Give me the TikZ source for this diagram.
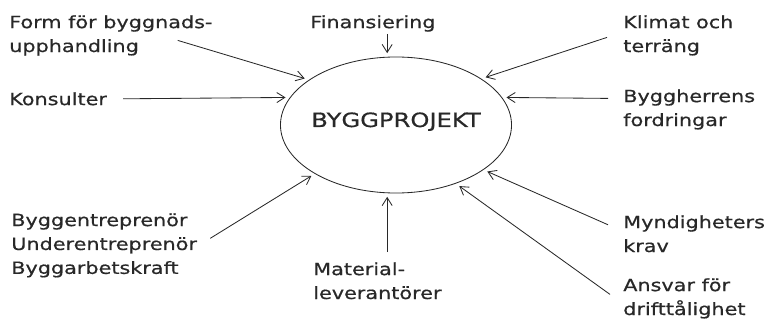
\documentclass[tikz,border=0pt]{standalone}
\usepackage{fontspec}
\setmainfont[FakeStretch=1.23, FakeBold=0.6]{DejaVu Sans}
\usetikzlibrary{arrows.meta, positioning, shapes, calc}
\definecolor{Ink}{RGB}{40, 40, 40}

\begin{document}
\begin{tikzpicture}[x=0.025cm, y=-0.025cm]
        \tikzstyle{factor} = [anchor=north west, align=left, inner sep=0pt, text=Ink, font=\fontsize{12}{17}\selectfont]
        \tikzstyle{project} = [ellipse, draw=Ink, line width=0.6pt, minimum width=5.775cm, minimum height=3.4cm, inner sep=0pt, outer sep=0.1cm]
        \tikzstyle{arrow} = [-{Straight Barb[length=0.2cm, width=0.25cm]}, line width=0.6pt, Ink]

        \useasboundingbox (0,0) rectangle (771,328);

        % Centre
        \node (proj) [project] at (396,125) {};
        \node (title) [anchor=base, inner sep=0pt, text=Ink, font=\fontsize{14}{17}\selectfont] at (396,127) {BYGGPROJEKT};

        % Factors
        \node (form) [factor] at (9,15) {Form för byggnads-\\upphandling};
        \node (kons) [factor] at (9,92) {Konsulter};
        \node (bygg) [factor] at (11,213) {Byggentreprenör\\Underentreprenör\\Byggarbetskraft};
        \node (fin) [factor] at (310,15) {Finansiering};
        \node (mat) [factor] at (313,262) {Material-\\leverantörer};
        \node (klim) [factor] at (623,15) {Klimat och\\terräng};
        \node (byh) [factor] at (623,89) {Byggherrens\\fordringar};
        \node (mynd) [factor] at (623,215) {Myndigheters\\krav};
        \node (ansv) [factor] at (623,278) {Ansvar för\\drifttålighet};

        % Arrows
        \draw [arrow] ($(form.east)+(-35,5)$) -- (proj.153);
        \draw [arrow] ($(kons.east)+(16,0)$) -- (proj.166);
        \draw [arrow] ($(bygg.east)+(13,-7)$) -- (proj.211);
        \draw [arrow] ($(proj.97 |- fin.south)+(0,2)$) -- (proj.97);
        \draw [arrow] ($(proj.263 |- mat.north)+(0,-10)$) -- (proj.263);
        \draw [arrow] ($(klim.west)+(-16,2)$) -- (proj.28);
        \draw [arrow] ($(byh.west)+(-15,-11)$) -- (proj.14);
        \draw [arrow] ($(mynd.west)+(-15,-9)$) -- (proj.333);
        \draw [arrow] ($(ansv.west)+(-13,-4)$) -- (proj.316);
    \end{tikzpicture}
\end{document}
